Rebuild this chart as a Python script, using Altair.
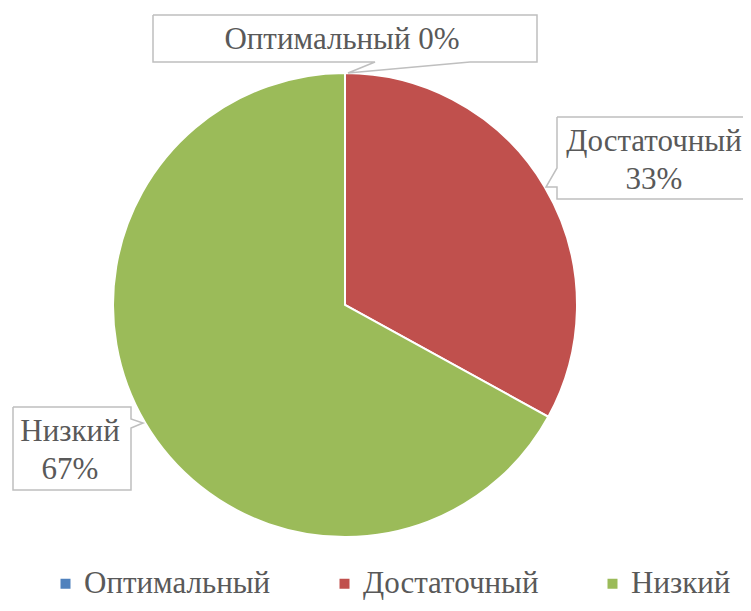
import altair as alt
import pandas as pd

# ---- data ----
categories = ["Оптимальный", "Достаточный", "Низкий"]
values = [0, 33, 67]
colors = ["#4F81BD", "#C0504D", "#9BBB59"]

df = pd.DataFrame({"cat": categories, "val": values, "ord": list(range(len(categories)))})

# ---- layout (view coordinates) ----
W, H = 735, 595
CX, CY, R = 337, 297, 232
FONT = "Liberation Serif"
FS = 31
TXT = "#595959"
BOX = "#BFBFBF"

def pg(p):
    return (p[0] - 8, p[1] - 8)

callouts = {
    "opt": [(153, 15), (537, 15), (537, 62), (470, 62), (348, 73), (375, 62), (153, 62), (153, 15)],
    "dost": [(557, 117), (760, 117), (760, 199), (557, 199), (557, 187), (546, 187), (557, 168), (557, 117)],
    "niz": [(13, 407), (131, 407), (131, 419), (143, 423), (131, 428), (131, 490), (13, 490), (13, 407)],
}
rows = []
for k, pts in callouts.items():
    for i, p in enumerate(pts):
        x, y = pg(p)
        rows.append({"k": k, "i": i, "px": x, "py": y})
cdf = pd.DataFrame(rows)

pie = alt.Chart(df).mark_arc(radius=R, stroke="white", strokeWidth=2).encode(
    theta=alt.Theta("val:Q", stack=True),
    order=alt.Order("ord:Q"),
    color=alt.Color(
        "cat:N",
        sort=categories,
        scale=alt.Scale(domain=categories, range=colors),
        legend=alt.Legend(
            title=None,
            orient="none",
            legendX=42,
            legendY=560,
            direction="horizontal",
            symbolType="square",
            symbolSize=100,
            symbolStrokeWidth=0,
            labelFont=FONT,
            labelFontSize=FS,
            labelColor=TXT,
            labelLimit=0,
            columnPadding=58,
            labelOffset=3,
        ),
    ),
    x=alt.value(CX),
    y=alt.value(CY),
)

boxes = alt.Chart(cdf).mark_line(color=BOX, strokeWidth=1.5).encode(
    x=alt.X("px:Q", scale=None, axis=None),
    y=alt.Y("py:Q", scale=None, axis=None),
    detail="k:N",
    order="i:Q",
)

lab_opt = f"{categories[0]} {values[0]}%"
lab_dost = [categories[1], f"{values[1]}%"]
lab_niz = [categories[2], f"{values[2]}%"]

dummy = pd.DataFrame({"a": [0]})
def txt(text, x, y):
    return alt.Chart(dummy).mark_text(
        text=text, font=FONT, fontSize=FS, color=TXT, align="center", baseline="middle", lineHeight=38
    ).encode(x=alt.value(x), y=alt.value(y))

t1 = txt(lab_opt, 342 - 8, 40 - 8)
t2 = txt(lab_dost, 654 - 8, 142 - 8)
t3 = txt(lab_niz, 70 - 8, 432 - 8)

chart = alt.layer(pie, boxes, t1, t2, t3).properties(
    width=W, height=H, autosize=alt.AutoSizeParams(type="none"), padding=0,
    view=alt.ViewBackground(stroke=None),
)

chart.save("out.html", embed_options={"renderer": "svg", "actions": False})
